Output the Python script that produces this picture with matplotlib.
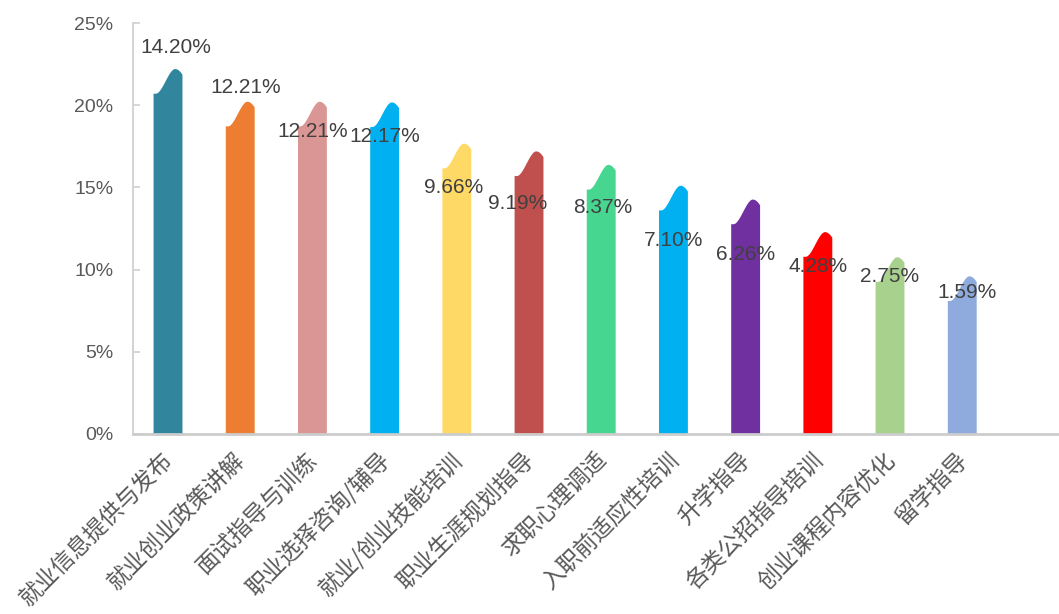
import numpy as np
import matplotlib
matplotlib.use("Agg")
import matplotlib.pyplot as plt
from matplotlib import font_manager

categories = ['就业信息提供与发布', '就业创业政策讲解', '面试指导与训练', '职业选择咨询/辅导',
              '就业/创业技能培训', '职业生涯规划指导', '求职心理调适', '入职前适应性培训',
              '升学指导', '各类公招指导培训', '创业课程内容优化', '留学指导']
values = [14.20, 12.21, 12.21, 12.17, 9.66, 9.19, 8.37, 7.10, 6.26, 4.28, 2.75, 1.59]
colors = ['#31859C', '#ED7D31', '#DA9694', '#00B0F0', '#FFD966', '#C0504D',
          '#47D68F', '#00B0F0', '#7030A0', '#FF0000', '#A9D18E', '#8FAADC']
yticks = [0, 5, 10, 15, 20, 25]

# where each value label sits (height in % units, x shift in px)
label_y = [23.5, 21.1, 18.4, 18.1, 15.0, 14.0, 13.8, 11.8, 10.9, 10.2, 9.6, 8.6]
label_dx = [8, 5, 0, 0, -3, -11, 2, 0, 0, 0, 0, 5]

names = {f.name for f in font_manager.fontManager.ttflist}
num_font = 'Liberation Sans Narrow' if 'Liberation Sans Narrow' in names else 'Liberation Sans'
cjk = ['Noto Sans CJK SC', 'DejaVu Sans']

# wave-top bar: body offset and bump height (in % units), as drawn in the original
body_off = 6.5
bump = 1.5
width = 0.40


def wave_top(t):
    # rises from left shoulder to a peak at ~75% of the width, then rounds off
    rise = np.clip((t - 0.08) / 0.67, 0, 1)
    s = rise * rise * (3 - 2 * rise)
    drop = np.clip((t - 0.75) / 0.25, 0, 1)
    return bump * s - 0.35 * drop ** 2


fig = plt.figure(figsize=(10.59, 6.14), dpi=100)
ax = fig.add_axes([133 / 1059, 180 / 614, 926 / 1059, 411 / 614])

t = np.linspace(0, 1, 80)
for i, (v, c) in enumerate(zip(values, colors)):
    base = v + body_off
    xs = i - width / 2 + t * width
    ys = base + wave_top(t)
    px = np.concatenate([[i - width / 2], xs, [i + width / 2]])
    py = np.concatenate([[0], ys, [0]])
    ax.fill(px, py, color=c, lw=0, zorder=2)

for i, v in enumerate(values):
    ax.annotate(f'{v:.2f}%', xy=(i, label_y[i]), xytext=(label_dx[i] * 0.72, 0),
                textcoords='offset points', ha='center', va='center',
                fontsize=15, color='#404040', family=[num_font, 'DejaVu Sans'], zorder=3)

for i, name in enumerate(categories):
    ax.annotate(name, xy=(i, 0), xycoords=('data', 'axes fraction'),
                xytext=(1, -16), textcoords='offset points',
                rotation=45, rotation_mode='anchor', ha='right', va='center',
                fontsize=16.5, color='#595959', family=cjk)

ax.set_xlim(-0.485, 12.34)
ax.set_ylim(0, 25)
ax.set_xticks([])
ax.set_yticks(yticks)
ax.set_yticklabels([f'{y}%' for y in yticks], family=[num_font, 'DejaVu Sans'],
                   fontsize=14, color='#595959')
ax.tick_params(axis='y', direction='in', length=5, width=1.2, color='#D0D0D0', pad=14)

for s in ['top', 'right']:
    ax.spines[s].set_visible(False)
ax.spines['left'].set_color('#D0D0D0')
ax.spines['left'].set_linewidth(1.3)
ax.spines['bottom'].set_color('#CCCCCC')
ax.spines['bottom'].set_linewidth(2)
ax.spines['bottom'].set_zorder(3)

fig.savefig('out.png', dpi=100)
